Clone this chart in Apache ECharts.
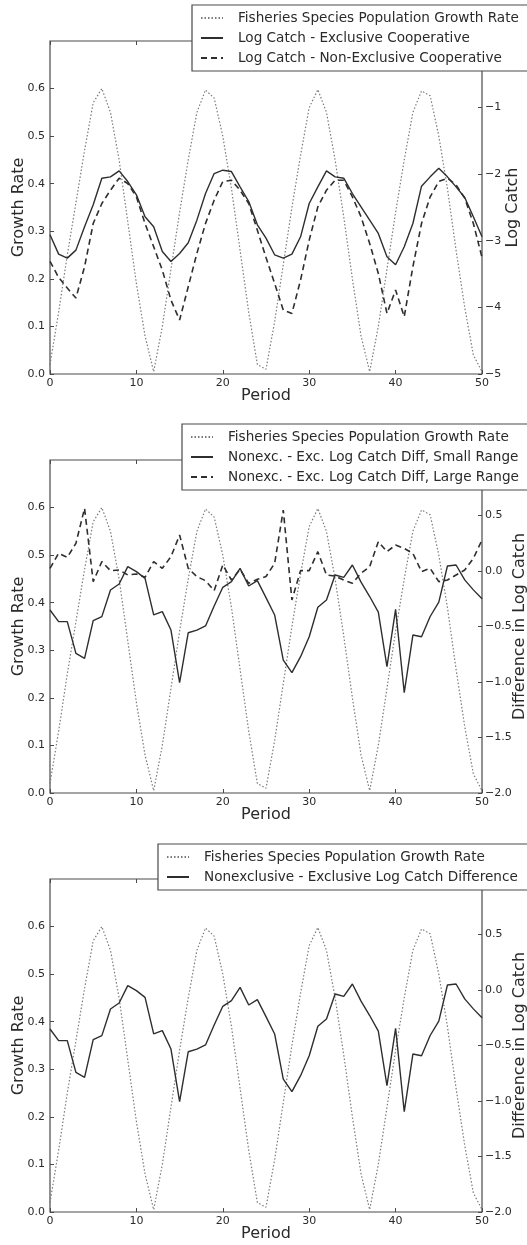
<!DOCTYPE html>
<html>
<head>
<meta charset="utf-8">
<script src="https://cdn.jsdelivr.net/npm/echarts@6/dist/echarts.min.js"></script>
<style>
html,body{margin:0;padding:0;background:#fff;}
#chart{width:527px;height:1245px;}
</style>
</head>
<body>
<div id="chart"></div>
<script>
// ---- data ----
const periods = [0,1,2,3,4,5,6,7,8,9,10,11,12,13,14,15,16,17,18,19,20,21,22,23,24,25,26,27,28,29,30,31,32,33,34,35,36,37,38,39,40,41,42,43,44,45,46,47,48,49,50];
const growthRate = [0.02,0.13,0.25,0.36,0.47,0.57,0.60,0.55,0.45,0.32,0.19,0.08,0.005,
  0.10,0.22,0.34,0.45,0.55,0.597,0.58,0.50,0.39,0.26,0.13,0.02,0.01,
  0.11,0.23,0.35,0.46,0.56,0.598,0.55,0.45,0.33,0.20,0.08,0.005,
  0.10,0.22,0.34,0.45,0.55,0.595,0.585,0.50,0.39,0.26,0.14,0.04,0.005];
const logCatchExclusive = [-2.91,-3.20,-3.26,-3.14,-2.79,-2.46,-2.06,-2.04,-1.95,-2.11,-2.31,-2.64,-2.79,
  -3.16,-3.31,-3.19,-3.03,-2.69,-2.29,-1.99,-1.94,-1.96,-2.19,-2.41,-2.76,-2.96,
  -3.21,-3.26,-3.20,-2.94,-2.44,-2.19,-1.95,-2.04,-2.06,-2.29,-2.49,-2.69,
  -2.89,-3.24,-3.36,-3.09,-2.74,-2.18,-2.04,-1.91,-2.04,-2.19,-2.35,-2.64,-2.94];
const logCatchNonExclusive = [-3.31,-3.55,-3.71,-3.86,-3.39,-2.74,-2.44,-2.24,-2.06,-2.14,-2.34,-2.74,-3.09,
  -3.44,-3.89,-4.19,-3.69,-3.19,-2.74,-2.39,-2.11,-2.09,-2.24,-2.44,-2.84,-3.25,
  -3.64,-4.04,-4.09,-3.59,-2.99,-2.49,-2.24,-2.09,-2.09,-2.34,-2.64,-3.04,
  -3.49,-4.09,-3.74,-4.14,-3.39,-2.74,-2.34,-2.11,-2.06,-2.16,-2.36,-2.74,-3.25];
const diffSmallRange = [-0.351,-0.456,-0.456,-0.742,-0.787,-0.447,-0.411,-0.171,-0.117,0.039,-0.006,-0.066,-0.396,
  -0.366,-0.532,-1.006,-0.556,-0.532,-0.495,-0.315,-0.147,-0.096,0.024,-0.135,-0.087,-0.24,
  -0.396,-0.802,-0.916,-0.772,-0.592,-0.327,-0.261,-0.036,-0.057,0.054,-0.10,-0.23,
  -0.37,-0.862,-0.345,-1.096,-0.577,-0.592,-0.41,-0.28,0.045,0.054,-0.08,-0.17,-0.25];
const diffLargeRange = [0.024,0.159,0.123,0.249,0.565,-0.096,0.084,0.003,0.009,-0.036,-0.027,-0.057,0.084,
  0.024,0.129,0.324,0.024,-0.051,-0.087,-0.177,0.054,-0.081,0.015,-0.111,-0.075,-0.05,
  0.069,0.549,-0.261,0.003,0.003,0.174,-0.036,-0.045,-0.081,-0.111,-0.021,0.039,
  0.264,0.174,0.234,0.204,0.159,-0.006,0.024,-0.096,-0.081,-0.036,0.009,0.114,0.279];
const diffCombined = diffSmallRange.slice();

const nameGrowth = 'Fisheries Species Population Growth Rate';
const nameExcl = 'Log Catch - Exclusive Cooperative';
const nameNonExcl = 'Log Catch - Non-Exclusive Cooperative';
const nameSmall = 'Nonexc. - Exc. Log Catch Diff, Small Range';
const nameLarge = 'Nonexc. - Exc. Log Catch Diff, Large Range';
const nameDiff = 'Nonexclusive - Exclusive Log Catch Difference';

// ---- styling / layout ----
const FONT = 'DejaVu Sans';
const TXT = '#2a2a2a';
const FRAME = '#4a4a4a';
const tops = [41, 460, 879];
const H = 333;

function pairs(arr){ return periods.map((p,i)=>[p, arr[i]]); }
function fmt(d){ return v => (v < -1e-9 ? '\u2212' : '') + Math.abs(v).toFixed(d); }

const grids = tops.map(t => ({left:50, top:t, width:432, height:H, show:true, borderColor:FRAME, borderWidth:1.2,
  backgroundColor:'transparent', containLabel:false, outerBoundsMode:'none'}));

const tick = {show:true, inside:true, length:4, lineStyle:{color:FRAME}};
const noLine = {show:false, onZero:false};
const nameStyle = {fontFamily:FONT, fontSize:16, color:TXT};
const xAxes = [];
const yAxes = [];
tops.forEach((t,g) => {
  xAxes.push({gridIndex:g, type:'value', min:0, max:50, interval:10, position:'bottom',
    name:'Period', nameLocation:'middle', nameGap:14, nameMoveOverlap:false, nameTextStyle:nameStyle,
    axisLine:noLine, splitLine:{show:false}, axisTick:tick,
    axisLabel:{fontFamily:FONT, fontSize:11, color:TXT, margin:4, formatter: v => String(v)}});
  xAxes.push({gridIndex:g, type:'value', min:0, max:50, interval:10, position:'top',
    axisLine:noLine, splitLine:{show:false}, axisTick:tick, axisLabel:{show:false}});
  yAxes.push({gridIndex:g, type:'value', min:0, max:0.7, interval:0.1, position:'left',
    name:'Growth Rate', nameLocation:'middle', nameGap:23, nameRotate:90, nameMoveOverlap:false, nameTextStyle:nameStyle,
    axisLine:noLine, splitLine:{show:false}, axisTick:tick,
    axisLabel:{fontFamily:FONT, fontSize:11, color:TXT, margin:5, showMaxLabel:false, formatter: fmt(1)}});
  if (g === 0) {
    yAxes.push({gridIndex:g, type:'value', min:-5, max:0, interval:1, position:'right',
      name:'Log Catch', nameLocation:'middle', nameGap:23, nameRotate:90, nameMoveOverlap:false, nameTextStyle:nameStyle,
      axisLine:noLine, splitLine:{show:false}, axisTick:tick,
      axisLabel:{fontFamily:FONT, fontSize:11, color:TXT, margin:3, showMaxLabel:false, formatter: fmt(0)}});
  } else {
    yAxes.push({gridIndex:g, type:'value', min:-2, max:1, interval:0.5, position:'right',
      name:'Difference in Log Catch', nameLocation:'middle', nameGap:30, nameRotate:90, nameMoveOverlap:false, nameTextStyle:nameStyle,
      axisLine:noLine, splitLine:{show:false}, axisTick:tick,
      axisLabel:{fontFamily:FONT, fontSize:11, color:TXT, margin:3, showMaxLabel:false, formatter: fmt(1)}});
  }
});

const dotted = {color:'#7a7a7a', width:1.2, type:[1.5,2]};
const solid = {color:'#2e2e2e', width:1.4, type:'solid'};
const dashed = {color:'#2e2e2e', width:1.6, type:[6,4]};

function line(name, arr, xi, yi, ls){
  return {type:'line', name:name, xAxisIndex:xi, yAxisIndex:yi, data:pairs(arr),
    symbol:'none', showSymbol:false, lineStyle:ls, itemStyle:{color:ls.color}, animation:false, z:3, silent:true};
}

const series = [
  line(nameGrowth, growthRate, 0, 0, dotted),
  line(nameExcl, logCatchExclusive, 0, 1, solid),
  line(nameNonExcl, logCatchNonExclusive, 0, 1, dashed),
  line(nameGrowth, growthRate, 2, 2, dotted),
  line(nameSmall, diffSmallRange, 2, 3, solid),
  line(nameLarge, diffLargeRange, 2, 3, dashed),
  line(nameGrowth, growthRate, 4, 4, dotted),
  line(nameDiff, diffCombined, 4, 5, solid)
];

function legend(left, top, names){
  return {orient:'vertical', left:left, top:top, z:20,
    backgroundColor:'#fff', borderColor:FRAME, borderWidth:1.2, borderRadius:0,
    padding:[6,20,6,8], itemGap:6, itemWidth:22, itemHeight:14, selectedMode:false,
    itemStyle:{opacity:0},
    textStyle:{fontFamily:FONT, fontSize:13.6, color:TXT, padding:[0,0,0,10]},
    data:names
  };
}

const option = {
  backgroundColor:'#fff',
  animation:false,
  grid:grids,
  xAxis:xAxes,
  yAxis:yAxes,
  legend:[
    legend(192, 5, [nameGrowth, nameExcl, nameNonExcl]),
    legend(182, 424, [nameGrowth, nameSmall, nameLarge]),
    legend(158, 844, [nameGrowth, nameDiff])
  ],
  series:series
};
const chart = echarts.init(document.getElementById('chart'), null, {renderer:'canvas'});
chart.setOption(option);
</script>
</body>
</html>
